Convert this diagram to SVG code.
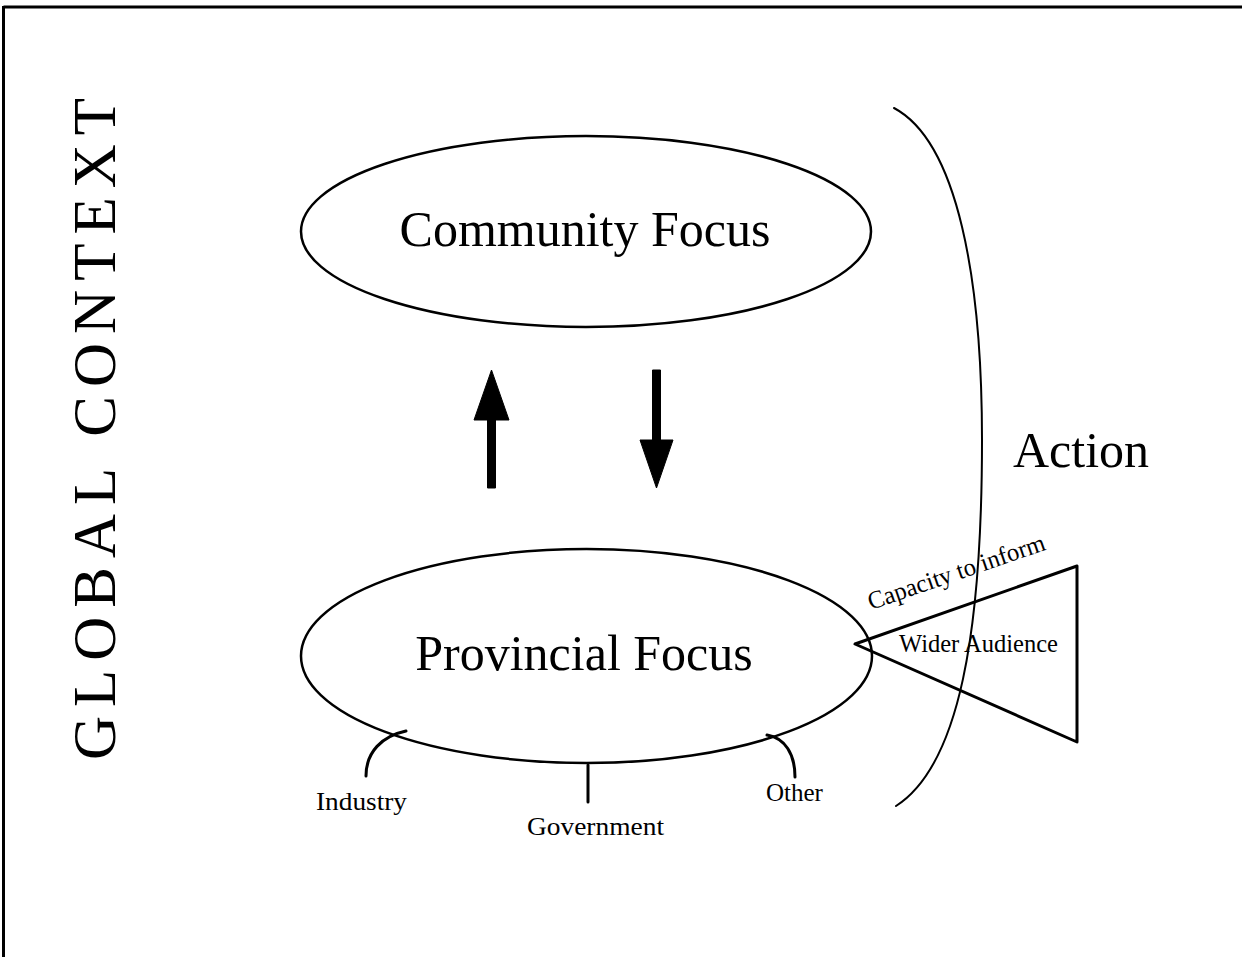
<svg xmlns="http://www.w3.org/2000/svg" width="1242" height="957" viewBox="0 0 1242 957">
<style>
.t{font-family:"Liberation Serif","Times New Roman",serif;fill:#000}
.big{font-size:50px}
.sm{font-size:25px}
.ln{fill:none;stroke:#000;stroke-linecap:round;stroke-linejoin:round}
</style>
<rect width="1242" height="957" fill="#fff"/>
<g id="frame">
<line x1="3.5" y1="7" x2="1242" y2="7" stroke="#000" stroke-width="3"/>
<line x1="3.5" y1="6" x2="3.5" y2="957" stroke="#000" stroke-width="3"/>
</g>
<g id="global-context">
<text class="t" font-size="61" fill="#222" transform="translate(115,760) rotate(-90)" textLength="662" lengthAdjust="spacing">GLOBAL CONTEXT</text>
</g>
<g id="community-focus">
<ellipse cx="586" cy="231.5" rx="285" ry="95.5" class="ln" stroke-width="2.5"/>
<text class="t big" x="585" y="246" text-anchor="middle">Community Focus</text>
</g>
<g id="provincial-focus">
<ellipse cx="586.5" cy="656" rx="285.5" ry="107" class="ln" stroke-width="2.5"/>
<text class="t big" x="584" y="670" text-anchor="middle">Provincial Focus</text>
</g>
<g id="action">
<path d="M894,108 C958,142 982,280 982,440 C982,630 960,765 896,806" class="ln" stroke-width="2"/>
<text class="t big" x="1013" y="467">Action</text>
</g>
<g id="wider-audience">
<polygon points="855,644 1077,566 1077,742" class="ln" stroke-width="3"/>
<text class="t sm" x="899" y="652" textLength="159" lengthAdjust="spacingAndGlyphs">Wider Audience</text>
<text class="t sm" transform="translate(871,610) rotate(-19)" textLength="186" lengthAdjust="spacingAndGlyphs">Capacity to inform</text>
</g>
<g id="connectors">
<path d="M487.5,488 L487.5,420 L474,420 L491.5,370 L509,420 L495.5,420 L495.5,488 Z" fill="#000" stroke="#000" stroke-width="1"/>
<path d="M652.5,370 L652.5,440 L640,440 L656.5,488 L673,440 L660.5,440 L660.5,370 Z" fill="#000" stroke="#000" stroke-width="1"/>
<path d="M366,776 C366,752 382,736 406,731" class="ln" stroke-width="3"/>
<line x1="588" y1="765" x2="588" y2="802" class="ln" stroke-width="3"/>
<path d="M767,735 C785,738 795,754 795,777" class="ln" stroke-width="3"/>
</g>
<g id="industry"><text class="t sm" x="316" y="810" textLength="91" lengthAdjust="spacingAndGlyphs">Industry</text></g>
<g id="government"><text class="t sm" x="527" y="835" textLength="137" lengthAdjust="spacingAndGlyphs">Government</text></g>
<g id="other"><text class="t sm" x="766" y="801">Other</text></g>
</svg>
